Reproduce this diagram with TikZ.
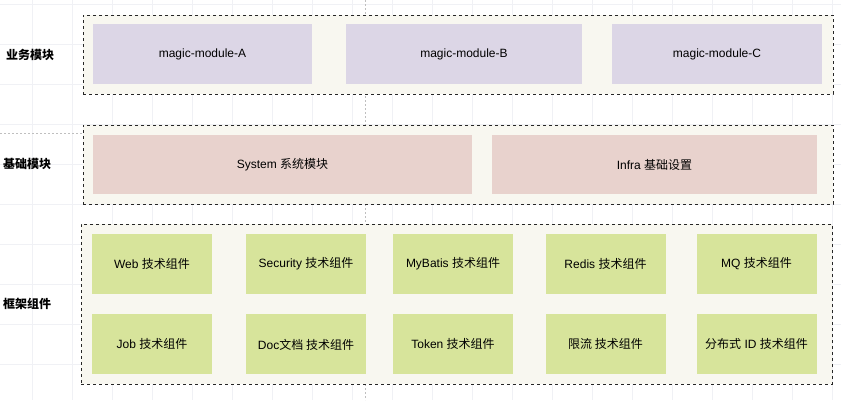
\documentclass[tikz,border=0pt]{standalone}
\usepackage{fontspec}
\setmainfont{Liberation Sans}
\newfontfamily\cjk{Noto Sans CJK SC}
\usetikzlibrary{positioning}
\definecolor{layerbg}{RGB}{248,247,240}
\definecolor{modbg}{RGB}{220,214,230}
\definecolor{basebg}{RGB}{232,210,205}
\definecolor{compbg}{RGB}{215,228,155}
\definecolor{gridc}{RGB}{240,241,245}
\newcommand{\zh}[1]{{\cjk #1}}

\begin{document}
\begin{tikzpicture}[x=1pt,y=-1pt,node distance=20pt,
  every node/.style={font=\fontsize{12}{14}\selectfont,inner sep=0pt},
  layer/.style={rectangle,draw=black!85,dashed,fill=layerbg},
  modbox/.style={rectangle,fill=modbg,minimum height=60pt},
  basebox/.style={rectangle,fill=basebg,minimum height=59pt},
  compbox/.style={rectangle,fill=compbg,minimum width=120pt,minimum height=60pt},
  rowlabel/.style={font=\fontsize{12}{14}\selectfont\bfseries\cjk}]
\useasboundingbox (0,0) rectangle (841,400);
% background grid
\foreach \gx in {32,72,...,832} \draw[gridc] (\gx,0) -- (\gx,400);
\foreach \gy in {4,44,...,396} \draw[gridc] (0,\gy) -- (841,\gy);
\draw[black!25,dash pattern=on 2pt off 2pt] (0,133) -- (83,133);
\draw[black!25,dash pattern=on 2pt off 2pt] (365.5,0) -- (365.5,400);

% layers
\node[layer,minimum width=750pt,minimum height=79pt] (L1) at (458,54.5) {};
\node[layer,minimum width=750pt,minimum height=79pt] (L2) at (458,164.5) {};
\node[layer,minimum width=751pt,minimum height=160pt] (L3) at (456.5,304) {};

\node[rowlabel] (t1) at (30,55) {业务模块};
\node[rowlabel] (t2) at (27,164) {基础模块};
\node[rowlabel] (t3) at (27,304) {框架组件};

% business modules
\node[modbox,minimum width=219pt] (mA) at (202.5,54) {magic-module-A};
\node[modbox,minimum width=236pt] (mB) at (464,54) {magic-module-B};
\node[modbox,minimum width=210pt] (mC) at (717,54) {magic-module-C};

% base modules
\node[basebox,minimum width=379pt] (sys) at (282.5,164.5) {System \zh{系统模块}};
\node[basebox,minimum width=325pt] (infra) at (654.5,164.5) {Infra \zh{基础设置}};

% framework components
\node[compbox] (web) at (152,264) {Web \zh{技术组件}};
\node[compbox] (sec) at (306,264) {Security \zh{技术组件}};
\node[compbox] (mybatis) at (453,264) {MyBatis \zh{技术组件}};
\node[compbox] (redis) at (605.5,264) {Redis \zh{技术组件}};
\node[compbox] (mq) at (756.5,264) {MQ \zh{技术组件}};
\node[compbox,below=of web] (job) {Job \zh{技术组件}};
\node[compbox,below=of sec] (doc) {Doc\zh{文档 技术组件}};
\node[compbox,below=of mybatis] (token) {Token \zh{技术组件}};
\node[compbox,below=of redis] (limit) {\zh{限流 技术组件}};
\node[compbox,below=of mq] (dist) {\zh{分布式} ID \zh{技术组件}};
\end{tikzpicture}
\end{document}
